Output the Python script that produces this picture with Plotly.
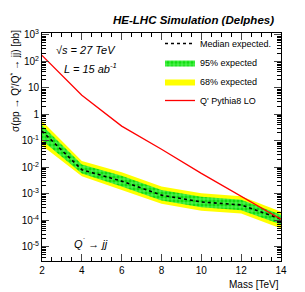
import plotly.graph_objects as go

# ---- data ----
mass = [2, 4, 6, 8, 10, 12, 14]
median_exp = [0.234, 8.1e-3, 3.0e-3, 8.9e-4, 4.9e-4, 3.8e-4, 1.1e-4]
yellow_hi = [0.56, 0.0174, 6.5e-3, 1.9e-3, 1.05e-3, 8.1e-4, 2.1e-4]
yellow_lo = [0.066, 4.6e-3, 1.4e-3, 4.2e-4, 2.3e-4, 1.8e-4, 4.9e-5]
green_hi = [0.39, 0.0129, 4.8e-3, 1.4e-3, 7.8e-4, 6.0e-4, 1.6e-4]
green_lo = [0.105, 5.8e-3, 1.9e-3, 5.6e-4, 3.1e-4, 2.4e-4, 6.9e-5]
theory_mass = [2, 4, 6, 8, 10, 12, 14]
theory_xs = [170, 5.25, 0.36, 0.048, 5.9e-3, 8.3e-4, 1.1e-4]

ytick_vals = [1e-5, 1e-4, 1e-3, 1e-2, 1e-1, 1, 10, 100, 1000]
ytick_text = ["10<sup>-5</sup>", "10<sup>-4</sup>", "10<sup>-3</sup>", "10<sup>-2</sup>",
              "10<sup>-1</sup>", "1", "10", "10<sup>2</sup>", "10<sup>3</sup>"]
xtick_vals = [2, 4, 6, 8, 10, 12, 14]

FONT = "Liberation Sans, Arial, sans-serif"

fig = go.Figure()

fig.add_trace(go.Scatter(
    x=mass + mass[::-1], y=yellow_hi + yellow_lo[::-1],
    fill="toself", fillcolor="#ffff00", mode="lines",
    line=dict(width=0, color="#ffff00"),
    name="68% expected", legendrank=3, hoverinfo="skip"))
fig.add_trace(go.Scatter(
    x=mass + mass[::-1], y=green_hi + green_lo[::-1],
    fill="toself", fillcolor="#11dd11", mode="lines",
    fillpattern=dict(shape="+", bgcolor="#11dd11", fgcolor="#77ff77",
                     fgopacity=1, size=4, solidity=0.3),
    line=dict(width=0, color="#11dd11"),
    name="95% expected", legendrank=2, hoverinfo="skip"))
fig.add_trace(go.Scatter(
    x=mass, y=median_exp, mode="lines",
    line=dict(color="black", width=1.6, dash="dot"),
    name="Median expected.", legendrank=1))
fig.add_trace(go.Scatter(
    x=theory_mass, y=theory_xs, mode="lines",
    line=dict(color="#ff0000", width=1.3),
    name="Q' Pythia8 LO", legendrank=4))

W, H = 305, 292
ml, mr, mt, mb = 42, 24, 33, 31
pw, ph = W - ml - mr, H - mt - mb

def px(xp):
    return (xp - ml) / pw

def py(yp):
    return (H - mb - yp) / ph

fig.update_layout(
    width=W, height=H,
    margin=dict(l=ml, r=mr, t=mt, b=mb, autoexpand=False),
    paper_bgcolor="white", plot_bgcolor="white",
    font=dict(family=FONT, size=10, color="black"),
    showlegend=True,
    legend=dict(x=px(160), y=py(29), xanchor="left", yanchor="top",
                bgcolor="rgba(0,0,0,0)", font=dict(size=9, family=FONT),
                itemwidth=30, tracegroupgap=0),
    xaxis=dict(range=[2, 14], tickvals=xtick_vals, ticks="inside", ticklen=7,
               tickwidth=1, showline=True, linecolor="black", linewidth=1,
               mirror="allticks", showgrid=False, zeroline=False,
               minor=dict(ticks="inside", ticklen=4, dtick=0.5, tickcolor="black", showgrid=False),
               tickfont=dict(size=10)),
    yaxis=dict(type="log", range=[-5.54, 3.075], tickvals=ytick_vals, ticktext=ytick_text,
               ticks="inside", ticklen=7, tickwidth=1, showline=True, linecolor="black",
               linewidth=1, mirror="allticks", showgrid=False, zeroline=False,
               minor=dict(ticks="inside", ticklen=4, dtick="D1", tickcolor="black", showgrid=False),
               tickfont=dict(size=10)),
)

annotations = [
    dict(text="<b><i>HE-LHC Simulation (Delphes)</i></b>", x=px(276), y=py(20),
         xanchor="right", yanchor="middle", font=dict(size=11.5)),
    dict(text="<i>√s = 27 TeV</i>", x=px(54), y=py(50), xanchor="left",
         yanchor="middle", font=dict(size=11)),
    dict(text="<i>L = 15 ab<sup>-1</sup></i>", x=px(62), y=py(68), xanchor="left",
         yanchor="middle", font=dict(size=11)),
    dict(text="<i>Q<sup>´</sup> → jj</i>", x=px(72), y=py(243), xanchor="left",
         yanchor="middle", font=dict(size=11)),
    dict(text="Mass [TeV]", x=px(281), y=py(284), xanchor="right", yanchor="middle",
         font=dict(size=10)),
    dict(text="σ(pp → Q'/Q<sup>*</sup> → jj) [pb]", x=px(15), y=py(28), textangle=-90,
         xanchor="center", yanchor="top", font=dict(size=10)),
]
for a in annotations:
    a.update(xref="paper", yref="paper", showarrow=False)
fig.update_layout(annotations=annotations)

fig.write_html("out.html", config={"displayModeBar": False},
               post_script="document.body.style.margin='0';")
